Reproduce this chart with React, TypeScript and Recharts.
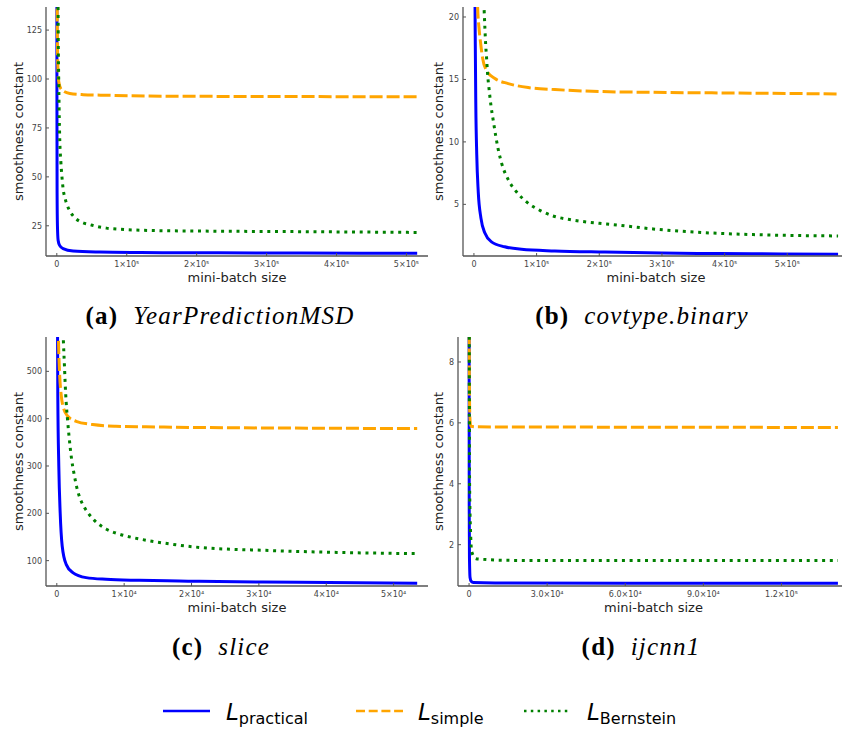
import React from "react";
import { LineChart, Line, XAxis, YAxis, Label } from "recharts";

// (a) YearPredictionMSD
const aPracticalX = [1, 50, 150, 400, 900, 1860, 4000, 9000, 23300, 61400, 120000, 204000, 350000, 515345];
const aPracticalY = [2000, 250, 95, 42, 25, 17.6, 15.0, 13.3, 12.1, 11.6, 11.35, 11.2, 11.05, 10.95];
const aSimpleX = [1, 500, 1000, 1860, 2860, 6720, 18590, 37610, 71070, 128270, 250000, 400000, 515345];
const aSimpleY = [1500, 138, 115, 103, 98.5, 94.6, 92.6, 92.0, 91.7, 91.3, 91.1, 91.0, 91.0];
const aBernsteinX = [1, 1000, 1860, 2860, 3290, 4290, 5720, 7150, 9010, 11870, 15300, 20020, 26740, 36750, 47190, 59060, 71070, 91520, 113970, 150000, 204490, 347490, 515345];
const aBernsteinY = [5000, 230, 133, 96, 85, 68, 58, 50.8, 44, 38.9, 35.1, 31.7, 28.8, 26.6, 25.6, 24.5, 23.8, 23.2, 22.8, 22.5, 22.3, 22.0, 21.6];

// (b) covtype.binary
const bPracticalX = [1, 1000, 2000, 3000, 4500, 6900, 11200, 17500, 28000, 49000, 76000, 129000, 209000, 300000, 392000, 490000, 581012];
const bPracticalY = [500, 32, 19, 13, 9, 6.0, 3.9, 2.7, 2.0, 1.6, 1.4, 1.27, 1.18, 1.1, 1.06, 1.03, 1.0];
const bSimpleX = [1, 3000, 5900, 7980, 10690, 13880, 20260, 33500, 54700, 86600, 129200, 203700, 286000, 445500, 581012];
const bSimpleY = [500, 28, 20.8, 19.2, 17.9, 16.7, 15.7, 15.07, 14.67, 14.35, 14.19, 14.03, 13.97, 13.9, 13.84];
const bBernsteinX = [1, 10000, 16430, 17550, 18660, 20260, 21850, 24400, 27110, 30780, 34610, 38760, 44180, 54710, 68110, 84060, 105300, 126500, 150400, 174300, 199900, 222200, 286000, 365700, 445500, 581012];
const bBernsteinY = [2000, 32, 20.4, 19.07, 17.87, 16.67, 15.41, 14.13, 12.93, 11.73, 10.53, 9.4, 8.3, 6.98, 5.99, 5.19, 4.52, 4.07, 3.80, 3.62, 3.48, 3.38, 3.03, 2.74, 2.58, 2.47];

// (c) slice
const cPracticalX = [1, 100, 148, 296, 503, 800, 1390, 2370, 4350, 7310, 12240, 18160, 21120, 35940, 53500];
const cPracticalY = [20000, 620, 447, 300, 200, 131, 92.2, 74.7, 64.1, 60.5, 58.4, 56.9, 56.3, 54.2, 52.1];
const cSimpleX = [1, 150, 250, 400, 650, 890, 1630, 2870, 5330, 8780, 13220, 17670, 30000, 42000, 53500];
const cSimpleY = [20000, 650, 565, 500, 450, 428, 405, 394.5, 387.5, 384, 382.7, 381.9, 380.5, 379.7, 379];
const cBernsteinX = [1, 700, 990, 1140, 1240, 1390, 1580, 1780, 1980, 2220, 2580, 2960, 3610, 4200, 4840, 5580, 7310, 9280, 11500, 13720, 15940, 21120, 30990, 40860, 53500];
const cBernsteinY = [50000, 700, 560, 510, 475, 435, 400, 368, 340, 312, 282, 255, 226, 210, 197, 185, 167, 156, 148, 142, 137, 128, 121.7, 117.6, 114.8];

// (d) ijcnn1
const dPracticalX = [1, 20, 60, 150, 380, 800, 1650, 10000, 60000, 141691];
const dPracticalY = [100, 9.5, 3.2, 1.6, 0.92, 0.8, 0.76, 0.745, 0.735, 0.73];
const dSimpleX = [1, 30, 100, 300, 650, 2950, 50000, 141691];
const dSimpleY = [100, 12, 7.5, 6.2, 5.89, 5.87, 5.86, 5.85];
const dBernsteinX = [1, 50, 200, 650, 1040, 2690, 5490, 11890, 26580, 80000, 141691];
const dBernsteinY = [200, 12, 4, 2.23, 1.76, 1.54, 1.52, 1.49, 1.48, 1.48, 1.48];

// ticks
const aXTicks = [0, 100000, 200000, 300000, 400000, 500000];
const aXTickLabels = ["0", "1×10⁵", "2×10⁵", "3×10⁵", "4×10⁵", "5×10⁵"];
const aYTicks = [25, 50, 75, 100, 125];
const bXTicks = [0, 100000, 200000, 300000, 400000, 500000];
const bXTickLabels = ["0", "1×10⁵", "2×10⁵", "3×10⁵", "4×10⁵", "5×10⁵"];
const bYTicks = [5, 10, 15, 20];
const cXTicks = [0, 10000, 20000, 30000, 40000, 50000];
const cXTickLabels = ["0", "1×10⁴", "2×10⁴", "3×10⁴", "4×10⁴", "5×10⁴"];
const cYTicks = [100, 200, 300, 400, 500];
const dXTicks = [0, 30000, 60000, 90000, 120000];
const dXTickLabels = ["0", "3.0×10⁴", "6.0×10⁴", "9.0×10⁴", "1.2×10⁵"];
const dYTicks = [2, 4, 6, 8];

type Pt = { x: number; y: number };
const zip = (xs: number[], ys: number[]): Pt[] => xs.map((x, i) => ({ x, y: ys[i] }));

const BLUE = "#0000ff";
const ORANGE = "#ffa500";
const GREEN = "#008000";
const AXIS = "#555555";
const SANS = "'DejaVu Sans', sans-serif";
const SERIF = "'Liberation Serif', serif";

const makeXTick = (ticks: number[], labels: string[]) => (props: any) => {
  const { x, y, payload } = props;
  const i = ticks.indexOf(payload.value);
  return (
    <g>
      <line x1={x} x2={x} y1={y - 6} y2={y - 9} stroke={AXIS} strokeWidth={1} />
      <text x={x} y={y + 5} textAnchor="middle" fontSize={8} fontFamily={SANS} fill="#444">
        {labels[i]}
      </text>
    </g>
  );
};

const YTick = (props: any) => {
  const { x, y, payload } = props;
  return (
    <g>
      <line x1={x + 4} x2={x + 7} y1={y} y2={y} stroke={AXIS} strokeWidth={1} />
      <text x={x} y={y + 3} textAnchor="end" fontSize={8} fontFamily={SANS} fill="#444">
        {payload.value}
      </text>
    </g>
  );
};

interface PanelProps {
  left: number;
  top: number;
  yAxisWidth: number;
  rightMargin: number;
  xDomain: [number, number];
  yDomain: [number, number];
  xTicks: number[];
  xTickLabels: string[];
  yTicks: number[];
  practical: Pt[];
  simple: Pt[];
  bernstein: Pt[];
}

const Panel: React.FC<PanelProps> = ({
  left,
  top,
  yAxisWidth,
  rightMargin,
  xDomain,
  yDomain,
  xTicks,
  xTickLabels,
  yTicks,
  practical,
  simple,
  bernstein,
}) => (
  <div style={{ position: "absolute", left, top, width: 430, height: 300 }}>
    <LineChart width={430} height={300} margin={{ top: 7, right: rightMargin, bottom: 0, left: 0 }}>
      <XAxis
        type="number"
        dataKey="x"
        domain={xDomain}
        allowDataOverflow
        ticks={xTicks}
        interval={0}
        height={44}
        tickSize={0}
        tickMargin={6}
        tickLine={false}
        tick={makeXTick(xTicks, xTickLabels)}
        axisLine={{ stroke: AXIS, strokeWidth: 1.3 }}
      >
        <Label
          value="mini-batch size"
          position="insideTop"
          offset={17}
          style={{ fontSize: 13, fontFamily: SANS, fill: "#222" }}
        />
      </XAxis>
      <YAxis
        type="number"
        domain={yDomain}
        allowDataOverflow
        ticks={yTicks}
        interval={0}
        width={yAxisWidth}
        tickSize={0}
        tickMargin={4}
        tickLine={false}
        tick={YTick}
        axisLine={{ stroke: AXIS, strokeWidth: 1.3 }}
      >
        <Label
          value="smoothness constant"
          angle={-90}
          position="insideLeft"
          offset={18}
          textAnchor="middle"
          style={{ fontSize: 13, fontFamily: SANS, fill: "#222" }}
        />
      </YAxis>
      <Line data={practical} dataKey="y" type="monotone" stroke={BLUE} strokeWidth={3} dot={false} activeDot={false} isAnimationActive={false} />
      <Line data={simple} dataKey="y" type="monotone" stroke={ORANGE} strokeWidth={3} strokeDasharray="13 4" dot={false} activeDot={false} isAnimationActive={false} />
      <Line data={bernstein} dataKey="y" type="monotone" stroke={GREEN} strokeWidth={3} strokeDasharray="3 4.7" dot={false} activeDot={false} isAnimationActive={false} />
    </LineChart>
  </div>
);

const Caption: React.FC<{ left: number; top: number; tag: string; name: string }> = ({ left, top, tag, name }) => (
  <div
    style={{
      position: "absolute",
      left,
      top,
      width: 430,
      textAlign: "center",
      fontFamily: SERIF,
      fontSize: 25,
      lineHeight: "28px",
      letterSpacing: 1.2,
      color: "#000",
    }}
  >
    <b>{tag}</b>&nbsp; <i>{name}</i>
  </div>
);

const LegendBar: React.FC = () => (
  <svg width={842} height={40} style={{ position: "absolute", left: 0, top: 693 }}>
    <line x1={163} x2={210} y1={18} y2={18} stroke={BLUE} strokeWidth={2.5} />
    <text x={226} y={27} fontFamily={SANS} fill="#000">
      <tspan fontStyle="italic" fontSize={23}>L</tspan>
      <tspan fontSize={16} dy={4}>practical</tspan>
    </text>
    <line x1={356} x2={403} y1={18} y2={18} stroke={ORANGE} strokeWidth={2.5} strokeDasharray="9 3.7" />
    <text x={418} y={27} fontFamily={SANS} fill="#000">
      <tspan fontStyle="italic" fontSize={23}>L</tspan>
      <tspan fontSize={16} dy={4}>simple</tspan>
    </text>
    <line x1={524} x2={570} y1={18} y2={18} stroke={GREEN} strokeWidth={2.5} strokeDasharray="2.5 4.3" />
    <text x={587} y={27} fontFamily={SANS} fill="#000">
      <tspan fontStyle="italic" fontSize={23}>L</tspan>
      <tspan fontSize={16} dy={4}>Bernstein</tspan>
    </text>
  </svg>
);

export default function App() {
  return (
    <div
      style={{
        position: "absolute",
        left: 0,
        top: 0,
        width: 842,
        height: 730,
        overflow: "hidden",
        background: "#fff",
      }}
    >
      <Panel
        left={0}
        top={0}
        yAxisWidth={46}
        rightMargin={2}
        xDomain={[-15459, 530805]}
        yDomain={[9.56, 136.8]}
        xTicks={aXTicks}
        xTickLabels={aXTickLabels}
        yTicks={aYTicks}
        practical={zip(aPracticalX, aPracticalY)}
        simple={zip(aSimpleX, aSimpleY)}
        bernstein={zip(aBernsteinX, aBernsteinY)}
      />
      <Panel
        left={420}
        top={0}
        yAxisWidth={43}
        rightMargin={1}
        xDomain={[-17429, 598442]}
        yDomain={[0.865, 20.8]}
        xTicks={bXTicks}
        xTickLabels={bXTickLabels}
        yTicks={bYTicks}
        practical={zip(bPracticalX, bPracticalY)}
        simple={zip(bSimpleX, bSimpleY)}
        bernstein={zip(bBernsteinX, bBernsteinY)}
      />
      <Panel
        left={0}
        top={330}
        yAxisWidth={46}
        rightMargin={2}
        xDomain={[-1604, 55105]}
        yDomain={[46.4, 572.6]}
        xTicks={cXTicks}
        xTickLabels={cXTickLabels}
        yTicks={cYTicks}
        practical={zip(cPracticalX, cPracticalY)}
        simple={zip(cSimpleX, cSimpleY)}
        bernstein={zip(cBernsteinX, cBernsteinY)}
      />
      <Panel
        left={420}
        top={330}
        yAxisWidth={38}
        rightMargin={1}
        xDomain={[-4250, 145942]}
        yDomain={[0.643, 8.82]}
        xTicks={dXTicks}
        xTickLabels={dXTickLabels}
        yTicks={dYTicks}
        practical={zip(dPracticalX, dPracticalY)}
        simple={zip(dSimpleX, dSimpleY)}
        bernstein={zip(dBernsteinX, dBernsteinY)}
      />
      <Caption left={5} top={302} tag="(a)" name="YearPredictionMSD" />
      <Caption left={427} top={302} tag="(b)" name="covtype.binary" />
      <Caption left={6} top={633} tag="(c)" name="slice" />
      <Caption left={426} top={633} tag="(d)" name="ijcnn1" />
      <LegendBar />
    </div>
  );
}
